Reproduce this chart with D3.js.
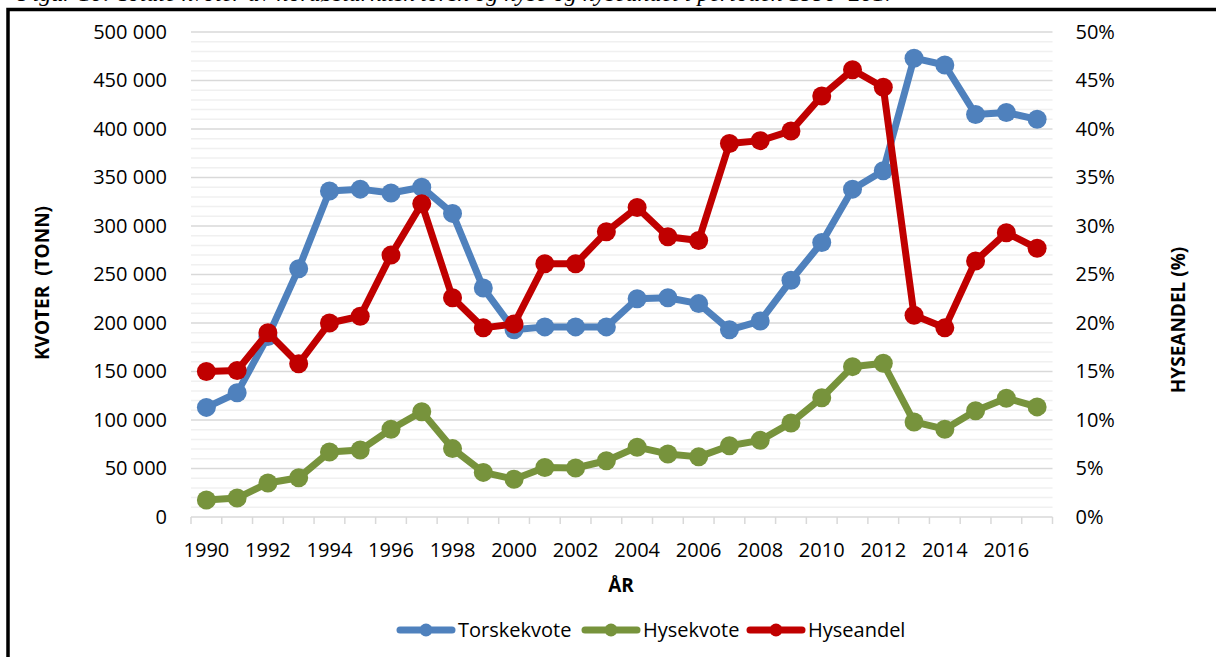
<!DOCTYPE html>
<html>
<head>
<meta charset="utf-8">
<script src="https://cdn.jsdelivr.net/npm/d3@7"></script>
<style>
	body{margin:0;background:#fff;}
	svg{display:block;font-family:"Open Sans",sans-serif;}
</style>
</head>
<body>
<div id="chart"></div>
<script>
// data
var years = [1990,1991,1992,1993,1994,1995,1996,1997,1998,1999,2000,2001,2002,2003,
			 2004,2005,2006,2007,2008,2009,2010,2011,2012,2013,2014,2015,2016,2017];
var torskekvote = [113000,128000,186000,256000,336000,338000,334000,340000,313000,236000,193000,196000,196000,196000,
				   225000,226000,220000,193000,202000,244000,283000,338000,357000,473000,466000,415000,417000,410000];
var hysekvote = [17500,19500,35000,40500,67000,69000,90500,108500,70500,46000,39000,51000,50500,58000,
				 72000,65000,62000,73500,79000,97000,123000,155000,158500,98000,90500,109500,122500,113500];
var hyseandel = [15.0,15.1,19.0,15.8,20.0,20.7,27.0,32.3,22.6,19.5,19.9,26.1,26.1,29.4,
				 31.9,28.9,28.5,38.5,38.8,39.8,43.4,46.1,44.3,20.8,19.5,26.4,29.3,27.7];
var leftTicks = [0,50000,100000,150000,200000,250000,300000,350000,400000,450000,500000];
var rightTicks = [0,5,10,15,20,25,30,35,40,45,50];
var yearLabels = [1990,1992,1994,1996,1998,2000,2002,2004,2006,2008,2010,2012,2014,2016];

var W = 1216, H = 657;
var plotLeft = 191, plotRight = 1052.5, plotTop = 32, plotBottom = 517;

var colors = {torsk:"#4F81BD", hyse:"#77933C", andel:"#C00000"};

var svg = d3.select("#chart").append("svg")
			.attr("width",W)
			.attr("height",H);

// caption, mostly cut off at the top of the page
svg.append("text")
	.attr("x",18)
	.attr("y",0.5)
	.style("font-family","'Liberation Serif',serif")
	.style("font-style","italic")
	.style("font-size","24px")
	.text("Figur 10: Totale kvoter av nordøstarktisk torsk og hyse og hyseandel i perioden 1990–2017");

// frame
svg.append("rect")
	.attr("x",8)
	.attr("y",9.5)
	.attr("width",W+20)
	.attr("height",H+20)
	.attr("fill","none")
	.attr("stroke","#000")
	.attr("stroke-width",3.5);

var x = d3.scaleBand().domain(years).range([plotLeft,plotRight]);
var cx = function(d){ return x(d) + x.bandwidth()/2; };
var yL = d3.scaleLinear().domain([0,500000]).range([plotBottom,plotTop]);
var yR = d3.scaleLinear().domain([0,50]).range([plotBottom,plotTop]);

var nb = d3.formatLocale({decimal:",",thousands:" ",grouping:[3],currency:["",""]});
var fmt = nb.format(",d");

// gridlines
svg.append("g").selectAll("line")
	.data(d3.range(10000,500001,10000))
	.enter()
	.append("line")
	.attr("x1",plotLeft).attr("x2",plotRight)
	.attr("y1",function(d){return yL(d);})
	.attr("y2",function(d){return yL(d);})
	.attr("stroke",function(d){return d % 50000 === 0 ? "#D9D9D9" : "#F0F0F0";})
	.attr("stroke-width",1.5);

// x axis line and ticks
svg.append("line")
	.attr("x1",plotLeft).attr("x2",plotRight)
	.attr("y1",plotBottom).attr("y2",plotBottom)
	.attr("stroke","#D9D9D9").attr("stroke-width",1.5);

svg.append("g").selectAll("line")
	.data(years.concat([null]))
	.enter()
	.append("line")
	.attr("x1",function(d,i){return plotLeft + i*x.step();})
	.attr("x2",function(d,i){return plotLeft + i*x.step();})
	.attr("y1",plotBottom).attr("y2",plotBottom+7)
	.attr("stroke","#D9D9D9").attr("stroke-width",1.5);

var axisL = svg.append("g")
	.attr("transform","translate("+plotLeft+",0)")
	.call(d3.axisLeft(yL).tickValues(leftTicks).tickSize(0).tickPadding(24).tickFormat(fmt));

var axisR = svg.append("g")
	.attr("transform","translate("+plotRight+",0)")
	.call(d3.axisRight(yR).tickValues(rightTicks).tickSize(0).tickPadding(23).tickFormat(function(d){return d+"%";}));

var axisB = svg.append("g")
	.attr("transform","translate(0,"+plotBottom+")")
	.call(d3.axisBottom(x).tickValues(yearLabels).tickSize(0).tickPadding(26));

[axisL,axisR,axisB].forEach(function(a){
	a.select(".domain").remove();
	a.selectAll("text")
	 .style("font-family","'Open Sans',sans-serif")
	 .style("font-size","20px")
	 .attr("fill","#000");
});

// axis titles
svg.append("text")
	.attr("transform","translate(49,283) rotate(-90)")
	.attr("text-anchor","middle")
	.style("font-weight","bold")
	.style("font-size","19px")
	.style("white-space","pre")
	.text("KVOTER  (TONN)");

svg.append("text")
	.attr("transform","translate(1185,320) rotate(-90)")
	.attr("text-anchor","middle")
	.style("font-weight","bold")
	.style("font-size","19px")
	.text("HYSEANDEL (%)");

svg.append("text")
	.attr("x",621)
	.attr("y",592)
	.attr("text-anchor","middle")
	.style("font-weight","bold")
	.style("font-size","19px")
	.text("ÅR");

// series
var series = [
	{name:"Torskekvote", values:torskekvote, y:yL, color:colors.torsk},
	{name:"Hysekvote", values:hysekvote, y:yL, color:colors.hyse},
	{name:"Hyseandel", values:hyseandel, y:yR, color:colors.andel}
];

series.forEach(function(s){
	var line = d3.line()
				 .x(function(d,i){return cx(years[i]);})
				 .y(function(d){return s.y(d);});
	var g = svg.append("g");
	g.append("path")
	 .datum(s.values)
	 .attr("d",line)
	 .attr("fill","none")
	 .attr("stroke",s.color)
	 .attr("stroke-width",7)
	 .attr("stroke-linejoin","round");
	g.selectAll("circle")
	 .data(s.values)
	 .enter()
	 .append("circle")
	 .attr("cx",function(d,i){return cx(years[i]);})
	 .attr("cy",function(d){return s.y(d);})
	 .attr("r",9.5)
	 .attr("fill",s.color);
});

// legend
var legendX = [397, 582, 747];
var leg = svg.append("g").selectAll("g")
			.data(series)
			.enter()
			.append("g")
			.attr("transform",function(d,i){return "translate("+legendX[i]+",630)";});

leg.append("line")
	.attr("x1",3).attr("x2",55)
	.attr("stroke",function(d){return d.color;})
	.attr("stroke-width",7)
	.attr("stroke-linecap","round");
leg.append("circle")
	.attr("cx",29)
	.attr("r",6.5)
	.attr("fill",function(d){return d.color;});
leg.append("text")
	.attr("x",61)
	.attr("dy","0.35em")
	.style("font-size","20px")
	.text(function(d){return d.name;});
</script>
</body>
</html>
